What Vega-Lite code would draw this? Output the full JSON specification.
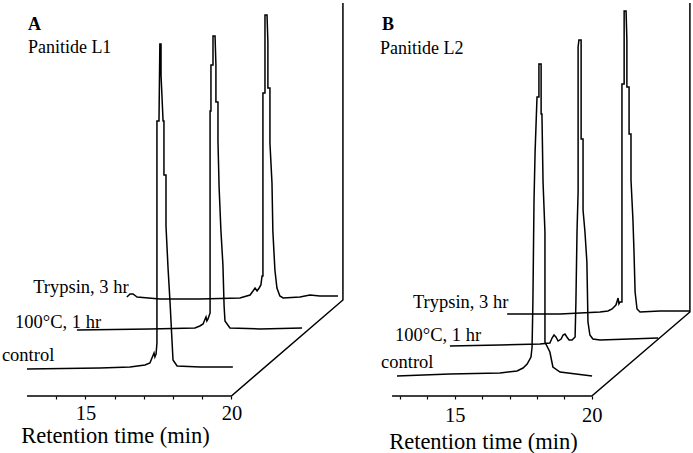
{
  "$schema": "https://vega.github.io/schema/vega-lite/v6.json",
  "padding": 0,
  "spacing": 4,
  "background": "white",
  "config": {"view": {"stroke": null}, "font": "Liberation Serif"},
  "datasets": {
    "a": [
      {"series":"frame","t":13.0,"s":0},{"series":"frame","t":20.0,"s":0},{"series":"frame","t":23.82,"s":32},{"series":"frame","t":23.82,"s":131},
      {"series":"control","t":13.0,"s":9.0},{"series":"control","t":15.5,"s":9.33},{"series":"control","t":16.53,"s":9.67},{"series":"control","t":17.04,"s":10.33},{"series":"control","t":17.21,"s":11.0},{"series":"control","t":17.28,"s":12.67},{"series":"control","t":17.35,"s":14.33},{"series":"control","t":17.38,"s":13.0},{"series":"control","t":17.42,"s":14.0},{"series":"control","t":17.45,"s":17.67},{"series":"control","t":17.45,"s":91.67},{"series":"control","t":17.52,"s":91.67},{"series":"control","t":17.55,"s":117.33},{"series":"control","t":17.59,"s":117.33},{"series":"control","t":17.59,"s":107},{"series":"control","t":17.66,"s":91.67},{"series":"control","t":17.69,"s":91.67},{"series":"control","t":17.69,"s":73.67},{"series":"control","t":17.76,"s":73.67},{"series":"control","t":17.76,"s":56.67},{"series":"control","t":17.83,"s":42.67},{"series":"control","t":17.9,"s":31.0},{"series":"control","t":17.97,"s":17.67},{"series":"control","t":18.0,"s":12.0},{"series":"control","t":18.14,"s":10.0},{"series":"control","t":18.93,"s":9.67},{"series":"control","t":20.05,"s":9.67},
      {"series":"heat","t":14.71,"s":22.0},{"series":"heat","t":17.21,"s":22.33},{"series":"heat","t":18.75,"s":22.67},{"series":"heat","t":18.92,"s":23.33},{"series":"heat","t":19.03,"s":24.0},{"series":"heat","t":19.1,"s":25.67},{"series":"heat","t":19.13,"s":26.33},{"series":"heat","t":19.16,"s":25.0},{"series":"heat","t":19.2,"s":25.67},{"series":"heat","t":19.27,"s":27.67},{"series":"heat","t":19.27,"s":95.0},{"series":"heat","t":19.3,"s":95.0},{"series":"heat","t":19.3,"s":110.33},{"series":"heat","t":19.37,"s":110.33},{"series":"heat","t":19.37,"s":120.0},{"series":"heat","t":19.44,"s":120.0},{"series":"heat","t":19.47,"s":110.33},{"series":"heat","t":19.47,"s":98.0},{"series":"heat","t":19.54,"s":98.0},{"series":"heat","t":19.54,"s":85.0},{"series":"heat","t":19.58,"s":69.33},{"series":"heat","t":19.64,"s":55.33},{"series":"heat","t":19.71,"s":43.67},{"series":"heat","t":19.75,"s":30.0},{"series":"heat","t":19.78,"s":25.0},{"series":"heat","t":19.95,"s":22.67},{"series":"heat","t":20.98,"s":22.33},{"series":"heat","t":22.42,"s":22.67},
      {"series":"trypsin","t":16.42,"s":33.0},{"series":"trypsin","t":16.53,"s":34.0},{"series":"trypsin","t":16.63,"s":34.0},{"series":"trypsin","t":16.77,"s":33.0},{"series":"trypsin","t":17.55,"s":32.33},{"series":"trypsin","t":18.92,"s":32.33},{"series":"trypsin","t":20.29,"s":32.67},{"series":"trypsin","t":20.64,"s":33.67},{"series":"trypsin","t":20.74,"s":35.0},{"series":"trypsin","t":20.81,"s":36.0},{"series":"trypsin","t":20.88,"s":35.0},{"series":"trypsin","t":20.95,"s":36.0},{"series":"trypsin","t":21.01,"s":37.0},{"series":"trypsin","t":21.05,"s":40.0},{"series":"trypsin","t":21.08,"s":40.0},{"series":"trypsin","t":21.08,"s":101.0},{"series":"trypsin","t":21.15,"s":101.0},{"series":"trypsin","t":21.15,"s":127.0},{"series":"trypsin","t":21.22,"s":127.0},{"series":"trypsin","t":21.25,"s":118.0},{"series":"trypsin","t":21.25,"s":102.67},{"series":"trypsin","t":21.32,"s":102.67},{"series":"trypsin","t":21.32,"s":84.33},{"series":"trypsin","t":21.39,"s":71.0},{"series":"trypsin","t":21.42,"s":55.0},{"series":"trypsin","t":21.49,"s":42.0},{"series":"trypsin","t":21.56,"s":36.0},{"series":"trypsin","t":21.66,"s":33.33},{"series":"trypsin","t":21.77,"s":32.67},{"series":"trypsin","t":22.35,"s":33.0},{"series":"trypsin","t":22.69,"s":33.67},{"series":"trypsin","t":23.03,"s":33.33},{"series":"trypsin","t":23.65,"s":33.33}
    ],
    "b": [
      {"series":"frame","t":12.71,"s":0},{"series":"frame","t":20.0,"s":0},{"series":"frame","t":23.58,"s":28.0},{"series":"frame","t":23.58,"s":131},
      {"series":"control","t":12.89,"s":6.67},{"series":"control","t":14.82,"s":7.33},{"series":"control","t":16.65,"s":7.67},{"series":"control","t":17.27,"s":8.33},{"series":"control","t":17.49,"s":9.33},{"series":"control","t":17.64,"s":10.67},{"series":"control","t":17.78,"s":13.0},{"series":"control","t":17.82,"s":16.33},{"series":"control","t":17.85,"s":31.33},{"series":"control","t":17.89,"s":64.67},{"series":"control","t":17.93,"s":81.33},{"series":"control","t":18.0,"s":99.67},{"series":"control","t":18.07,"s":99.67},{"series":"control","t":18.07,"s":110.67},{"series":"control","t":18.15,"s":110.67},{"series":"control","t":18.15,"s":94.0},{"series":"control","t":18.18,"s":94.0},{"series":"control","t":18.22,"s":71.33},{"series":"control","t":18.29,"s":54.67},{"series":"control","t":18.29,"s":18.0},{"series":"control","t":18.47,"s":14.67},{"series":"control","t":18.58,"s":9.67},{"series":"control","t":18.84,"s":8.0},{"series":"control","t":20.01,"s":6.67},
      {"series":"heat","t":14.82,"s":16.67},{"series":"heat","t":16.65,"s":17.0},{"series":"heat","t":18.11,"s":17.33},{"series":"heat","t":18.47,"s":17.67},{"series":"heat","t":18.55,"s":19.33},{"series":"heat","t":18.62,"s":20.33},{"series":"heat","t":18.69,"s":19.67},{"series":"heat","t":18.77,"s":18.33},{"series":"heat","t":18.88,"s":19.0},{"series":"heat","t":18.95,"s":20.33},{"series":"heat","t":19.02,"s":20.67},{"series":"heat","t":19.09,"s":19.67},{"series":"heat","t":19.17,"s":18.67},{"series":"heat","t":19.28,"s":18.67},{"series":"heat","t":19.39,"s":19.67},{"series":"heat","t":19.42,"s":31.33},{"series":"heat","t":19.46,"s":54.67},{"series":"heat","t":19.5,"s":68.0},{"series":"heat","t":19.5,"s":116.33},{"series":"heat","t":19.53,"s":118.67},{"series":"heat","t":19.61,"s":118.67},{"series":"heat","t":19.61,"s":85.67},{"series":"heat","t":19.68,"s":85.67},{"series":"heat","t":19.68,"s":62.0},{"series":"heat","t":19.75,"s":54.67},{"series":"heat","t":19.82,"s":44.67},{"series":"heat","t":19.86,"s":24.67},{"series":"heat","t":19.93,"s":20.33},{"series":"heat","t":20.04,"s":19.0},{"series":"heat","t":20.3,"s":18.67},{"series":"heat","t":21.39,"s":19.0},{"series":"heat","t":22.42,"s":19.33},
      {"series":"trypsin","t":16.91,"s":27.33},{"series":"trypsin","t":18.84,"s":27.33},{"series":"trypsin","t":20.3,"s":28.0},{"series":"trypsin","t":20.59,"s":28.33},{"series":"trypsin","t":20.74,"s":29.0},{"series":"trypsin","t":20.88,"s":30.33},{"series":"trypsin","t":20.96,"s":32.67},{"series":"trypsin","t":20.99,"s":30.67},{"series":"trypsin","t":21.03,"s":31.33},{"series":"trypsin","t":21.1,"s":31.33},{"series":"trypsin","t":21.1,"s":104.0},{"series":"trypsin","t":21.18,"s":104.0},{"series":"trypsin","t":21.18,"s":128.33},{"series":"trypsin","t":21.25,"s":128.33},{"series":"trypsin","t":21.28,"s":118.67},{"series":"trypsin","t":21.28,"s":103.0},{"series":"trypsin","t":21.36,"s":103.0},{"series":"trypsin","t":21.36,"s":87.33},{"series":"trypsin","t":21.43,"s":87.33},{"series":"trypsin","t":21.43,"s":72.0},{"series":"trypsin","t":21.5,"s":59.0},{"series":"trypsin","t":21.54,"s":48.0},{"series":"trypsin","t":21.58,"s":34.67},{"series":"trypsin","t":21.65,"s":29.0},{"series":"trypsin","t":21.76,"s":28.0},{"series":"trypsin","t":22.49,"s":28.33},{"series":"trypsin","t":23.58,"s":28.33}
    ],
    "ta": [
      {"role":"letter","label":"A","t":13.03,"s":122},
      {"role":"name","label":"Panitide L1","t":13.03,"s":114.33},
      {"role":"trace","label":"Trypsin, 3 hr","t":13.21,"s":34.33},
      {"role":"trace","label":"100°C, 1 hr","t":12.59,"s":22.67},
      {"role":"trace","label":"control","t":12.14,"s":11.67}
    ],
    "tb": [
      {"role":"letter","label":"B","t":12.34,"s":122},
      {"role":"name","label":"Panitide L2","t":12.27,"s":114},
      {"role":"trace","label":"Trypsin, 3 hr","t":13.47,"s":29.33},
      {"role":"trace","label":"100°C, 1 hr","t":12.82,"s":18.33},
      {"role":"trace","label":"control","t":12.31,"s":9.33}
    ]
  },
  "hconcat": [
    {
      "width": 346,
      "height": 393,
      "encoding": {
        "x": {"field": "t", "type": "quantitative", "scale": {"domain": [12.075, 23.925], "nice": false, "zero": false}},
        "y": {"field": "s", "type": "quantitative", "scale": {"domain": [0, 131], "nice": false, "zero": false}, "axis": null}
      },
      "layer": [
        {
          "data": {"name": "a"},
          "mark": {"type": "line", "stroke": "black", "strokeWidth": 1.5},
          "encoding": {
            "x": {"field": "t", "type": "quantitative", "axis": {
              "values": [14, 15, 16, 17, 18, 19, 20],
              "labelExpr": "datum.value == 15 || datum.value == 20 ? datum.label : ''",
              "labelOverlap": false,
              "domain": false, "grid": false,
              "tickColor": "black", "tickSize": 3, "tickWidth": 1.2,
              "labelFont": "Liberation Serif", "labelFontSize": 20.5, "labelColor": "black", "labelPadding": 4,
              "title": "Retention time (min)", "titleFont": "Liberation Serif", "titleFontSize": 22.5,
              "titleFontWeight": "normal", "titleColor": "black",
              "titleX": 115, "titleY": 46, "titleBaseline": "alphabetic", "titleAlign": "center"
            }},
            "detail": {"field": "series"},
            "order": {"value": null}
          }
        },
        {
          "data": {"name": "ta"},
          "transform": [{"filter": "datum.role == 'letter'"}],
          "mark": {"type": "text", "align": "left", "baseline": "alphabetic", "font": "Liberation Serif", "fontSize": 18, "fontWeight": "bold", "color": "black"},
          "encoding": {"text": {"field": "label"}}
        },
        {
          "data": {"name": "ta"},
          "transform": [{"filter": "datum.role == 'name'"}],
          "mark": {"type": "text", "align": "left", "baseline": "alphabetic", "font": "Liberation Serif", "fontSize": 18, "color": "black"},
          "encoding": {"text": {"field": "label"}}
        },
        {
          "data": {"name": "ta"},
          "transform": [{"filter": "datum.role == 'trace'"}],
          "mark": {"type": "text", "align": "left", "baseline": "alphabetic", "font": "Liberation Serif", "fontSize": 18.5, "color": "black"},
          "encoding": {"text": {"field": "label"}}
        }
      ]
    },
    {
      "width": 343,
      "height": 393,
      "encoding": {
        "x": {"field": "t", "type": "quantitative", "scale": {"domain": [11.175, 23.693], "nice": false, "zero": false}},
        "y": {"field": "s", "type": "quantitative", "scale": {"domain": [0, 131], "nice": false, "zero": false}, "axis": null}
      },
      "layer": [
        {
          "data": {"name": "b"},
          "mark": {"type": "line", "stroke": "black", "strokeWidth": 1.5},
          "encoding": {
            "x": {"field": "t", "type": "quantitative", "axis": {
              "values": [13, 14, 15, 16, 17, 18, 19, 20],
              "labelExpr": "datum.value == 15 || datum.value == 20 ? datum.label : ''",
              "labelOverlap": false,
              "domain": false, "grid": false,
              "tickColor": "black", "tickSize": 3, "tickWidth": 1.2,
              "labelFont": "Liberation Serif", "labelFontSize": 20.5, "labelColor": "black", "labelPadding": 6,
              "title": "Retention time (min)", "titleFont": "Liberation Serif", "titleFontSize": 22.5,
              "titleFontWeight": "normal", "titleColor": "black",
              "titleX": 133, "titleY": 52, "titleBaseline": "alphabetic", "titleAlign": "center"
            }},
            "detail": {"field": "series"},
            "order": {"value": null}
          }
        },
        {
          "data": {"name": "tb"},
          "transform": [{"filter": "datum.role == 'letter'"}],
          "mark": {"type": "text", "align": "left", "baseline": "alphabetic", "font": "Liberation Serif", "fontSize": 18, "fontWeight": "bold", "color": "black"},
          "encoding": {"text": {"field": "label"}}
        },
        {
          "data": {"name": "tb"},
          "transform": [{"filter": "datum.role == 'name'"}],
          "mark": {"type": "text", "align": "left", "baseline": "alphabetic", "font": "Liberation Serif", "fontSize": 18, "color": "black"},
          "encoding": {"text": {"field": "label"}}
        },
        {
          "data": {"name": "tb"},
          "transform": [{"filter": "datum.role == 'trace'"}],
          "mark": {"type": "text", "align": "left", "baseline": "alphabetic", "font": "Liberation Serif", "fontSize": 18.5, "color": "black"},
          "encoding": {"text": {"field": "label"}}
        }
      ]
    }
  ]
}
